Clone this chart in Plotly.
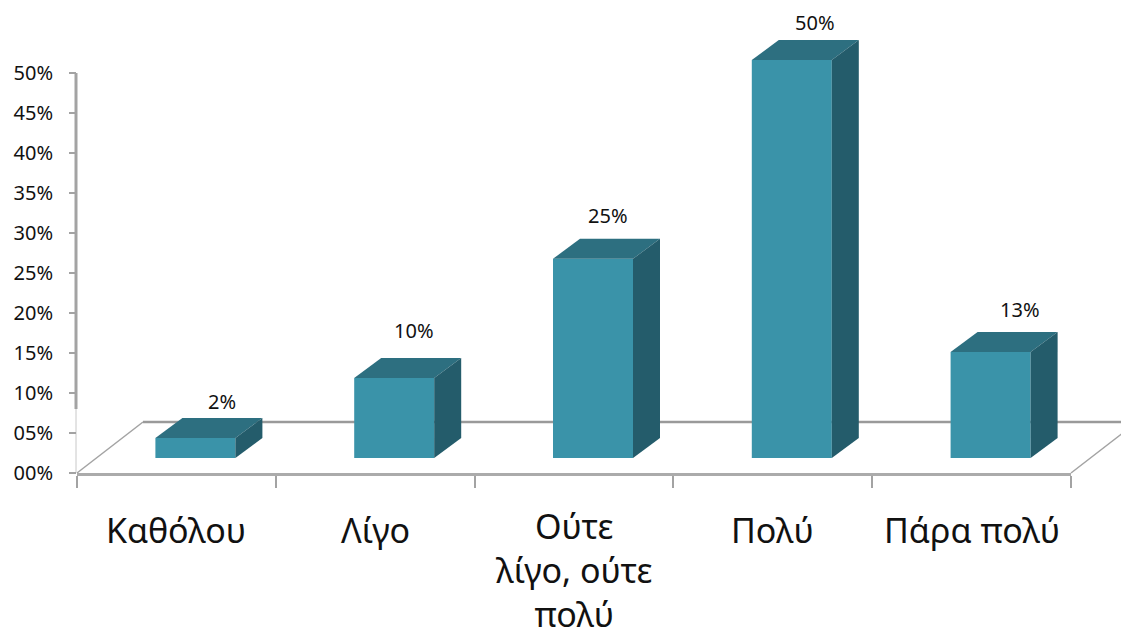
import plotly.graph_objects as go

# --- data ---
categories = ["Καθόλου", "Λίγο", "Ούτε<br>λίγο, ούτε<br>πολύ", "Πολύ", "Πάρα πολύ"]
values = [2.5, 10, 24.9, 49.75, 13.25]
value_labels = ["2%", "10%", "25%", "50%", "13%"]
y_ticks = [0, 5, 10, 15, 20, 25, 30, 35, 40, 45, 50]
y_tick_labels = ["00%", "05%", "10%", "15%", "20%", "25%", "30%", "35%", "40%", "45%", "50%"]

# --- styles / geometry of the fake 3-D look ---
FRONT, TOP, SIDE = "#3A93A9", "#2D6F80", "#245C6B"
AXIS = "#A3A3A3"
FONT = "Noto Sans"
W, H = 1121, 637
L, R, T, B = 77, 50, 0, 164
PX_X = (W - L - R) / 5   # pixels per category
PX_Y = 8.0               # pixels per percent
Y_MAX = (H - T - B) / PX_Y  # headroom above the 50% tick
BASE = 15 / PX_Y         # bars stand on the floor, above the axis
BAR_W = 80 / PX_X
BAR_SHIFT = 19 / PX_X
DX, DY = 27 / PX_X, 20 / PX_Y  # bar depth
LABEL_DX = [27, 20, 15, 23, 29]
LABEL_DY = [37, 48, 43, 38, 43]
CAT_SHIFT = [-32, -32, -28, -32, -32]

xs = [i + BAR_SHIFT for i in range(len(values))]

fig = go.Figure()
fig.add_trace(go.Bar(
    x=xs, y=values, base=[BASE] * len(values), width=BAR_W,
    marker=dict(color=FRONT, line=dict(width=0)),
    cliponaxis=False, showlegend=False, hoverinfo="skip",
))

for x, v in zip(xs, values):
    x0, x1 = x - BAR_W / 2, x + BAR_W / 2
    top = BASE + v
    fig.add_trace(go.Scatter(
        x=[x0, x1, x1 + DX, x0 + DX, x0],
        y=[top, top, top + DY, top + DY, top],
        mode="lines", fill="toself", fillcolor=TOP, line=dict(width=0, color=TOP),
        cliponaxis=False, showlegend=False, hoverinfo="skip",
    ))
    fig.add_trace(go.Scatter(
        x=[x1, x1 + DX, x1 + DX, x1, x1],
        y=[BASE, BASE + DY, top + DY, top, BASE],
        mode="lines", fill="toself", fillcolor=SIDE, line=dict(width=0, color=SIDE),
        cliponaxis=False, showlegend=False, hoverinfo="skip",
    ))


def px(x):
    return (x - L) / (W - L - R)


def py(y):
    return (H - B - y) / (H - T - B)


def seg(x0, y0, x1, y1, width, color=AXIS):
    return dict(type="line", xref="paper", yref="paper", layer="below",
                x0=px(x0), y0=py(y0), x1=px(x1), y1=py(y1),
                line=dict(color=color, width=width))


shapes = [
    seg(77, 473, 143, 422, 1.5),       # floor left edge
    seg(143, 422, 1137, 422, 2.5, "#9A9A9A"),  # floor back edge
    seg(1071, 473, 1137, 422, 1.5),    # floor right edge
    seg(76, 73, 76, 409, 3),           # upper wall edge
    seg(76, 409, 76, 473, 1, "#C8C8C8"),  # lower wall edge
]

annotations = []
for i, (lab, v) in enumerate(zip(value_labels, values)):
    annotations.append(dict(
        x=xs[i], y=BASE + v, xref="x", yref="y", text=lab, showarrow=False,
        xshift=LABEL_DX[i], yshift=LABEL_DY[i], xanchor="center", yanchor="middle",
        font=dict(family=FONT, size=20, color="#111111"),
    ))
for i, lab in enumerate(categories):
    annotations.append(dict(
        x=i, y=0, xref="x", yref="paper", text=lab, showarrow=False,
        yshift=CAT_SHIFT[i], xanchor="center", yanchor="top", align="center",
        font=dict(family=FONT, size=34, color="#111111"),
    ))

fig.update_layout(
    width=W, height=H, margin=dict(l=L, r=R, t=T, b=B, pad=0),
    paper_bgcolor="white", plot_bgcolor="rgba(0,0,0,0)",
    showlegend=False, shapes=shapes, annotations=annotations,
    xaxis=dict(range=[-0.5, 4.5], tickmode="array", tickvals=[-0.5, 0.5, 1.5, 2.5, 3.5, 4.5],
               showticklabels=False, ticks="outside", ticklen=12, tickwidth=2, tickcolor=AXIS,
               showline=True, linecolor="#ABABAB", linewidth=3, showgrid=False, zeroline=False),
    yaxis=dict(range=[0, Y_MAX], tickmode="array", tickvals=y_ticks, ticktext=y_tick_labels,
               ticks="outside", ticklen=7, tickwidth=2, tickcolor=AXIS, ticklabelstandoff=12,
               tickfont=dict(family=FONT, size=20, color="#111111"),
               showline=False, showgrid=False, zeroline=False),
)

fig.write_html("out.html", config=dict(displayModeBar=False),
               post_script="document.body.style.margin='0';")
